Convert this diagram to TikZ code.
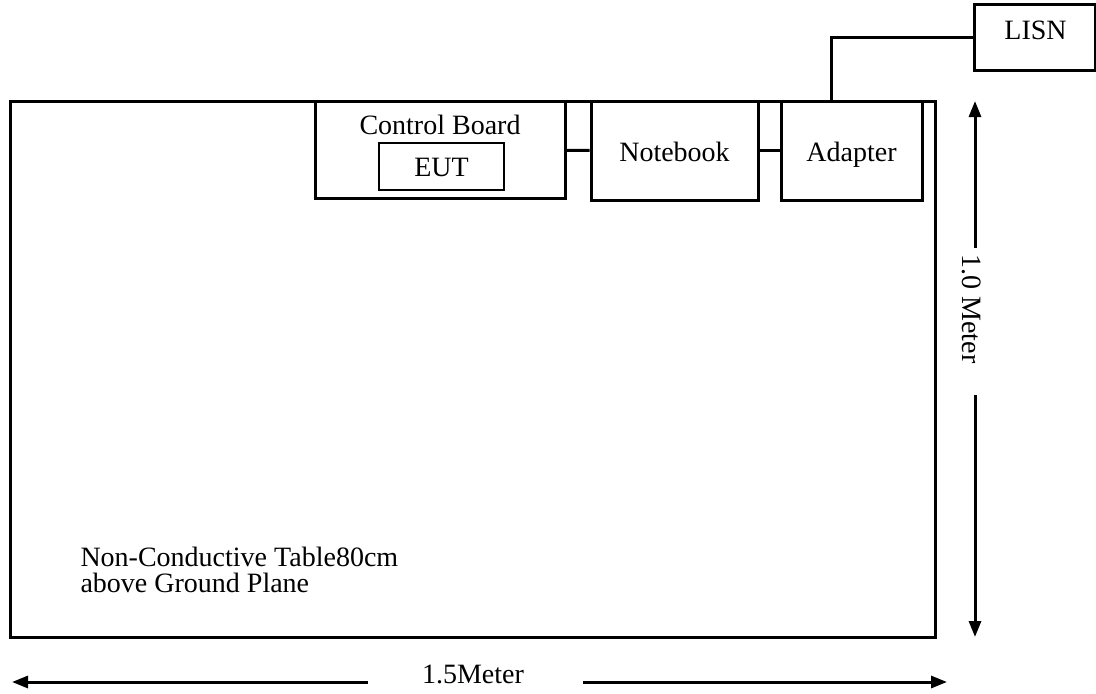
\documentclass[tikz,border=0pt]{standalone}
\usepackage{fontspec}
\setmainfont{Liberation Serif}
\usetikzlibrary{arrows.meta}

\tikzset{
  box/.style={draw, line width=3pt, inner sep=0pt},
  thinbox/.style={draw, line width=2pt, inner sep=0pt},
  wire/.style={line width=3pt},
  dimarrow/.style={line width=3pt, -{Triangle[length=16pt,width=12pt]}},
}

\begin{document}
\begin{tikzpicture}[x=1pt, y=-1pt, font=\fontsize{28}{30}\selectfont]

  \useasboundingbox (0,0) rectangle (1096,694);

  % Define nodes
  \node[box, minimum width=925pt, minimum height=536pt] (table) at (472.5,369) {};
  \node[box, minimum width=250pt, minimum height=97pt]  (board) at (440,150) {};
  \node[anchor=base] (boardlabel) at (440,134) {Control Board};
  \node[thinbox, minimum width=125pt, minimum height=47pt] (eut) at (441.5,166.5) {};
  \node[anchor=base] (eutlabel) at (441.5,176) {EUT};
  \node[box, minimum width=167pt, minimum height=99pt] (notebook) at (674.5,150.5) {};
  \node[anchor=base] (notebooklabel) at (674.5,161) {Notebook};
  \node[box, minimum width=141pt, minimum height=99pt] (adapter) at (851.5,150.5) {};
  \node[anchor=base] (adapterlabel) at (851.5,161) {Adapter};
  \node[box, minimum width=121pt, minimum height=66pt] (lisn) at (1034.5,37) {};
  \node[anchor=base] (lisnlabel) at (1035.5,39) {LISN};
  \coordinate (plug) at (831,101);

  \node[anchor=base west, align=left, font=\fontsize{28}{26}\selectfont] (tabletext) at (77,592)
    {Non-Conductive Table80cm\\above Ground Plane};

  % Dimension marks
  \coordinate (vtop) at (975,101);
  \coordinate (vtopend) at (975,248);
  \coordinate (vbotend) at (975,395);
  \coordinate (vbot) at (975,637);
  \node[rotate=-90] (vlabel) at (972,309) {1.0 Meter};

  \coordinate (hleft) at (12,682);
  \coordinate (hleftend) at (368,682);
  \coordinate (hrightend) at (583,682);
  \coordinate (hright) at (947,682);
  \node[anchor=base] (hlabel) at (473,683) {1.5Meter};

  % Connect the nodes
  \draw[wire] (board) -- (notebook);
  \draw[wire] (notebook) -- (adapter);
  \draw[wire] (lisn.west) -| (plug);

  \draw[dimarrow] (vtopend) -- (vtop);
  \draw[dimarrow] (vbotend) -- (vbot);
  \draw[dimarrow] (hleftend) -- (hleft);
  \draw[dimarrow] (hrightend) -- (hright);

\end{tikzpicture}
\end{document}
